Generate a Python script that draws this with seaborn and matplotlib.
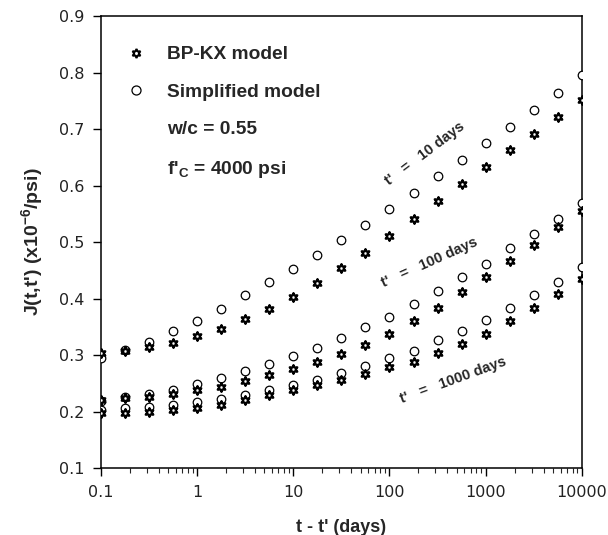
import numpy as np
import matplotlib
matplotlib.use("Agg")
import matplotlib.pyplot as plt
import matplotlib.ticker as ticker
from matplotlib.lines import Line2D
import pandas as pd
import seaborn as sns

# time since loading t - t' (days), quarter-decade steps
t_days = [0.1, 0.178, 0.316, 0.562, 1, 1.78, 3.16, 5.62, 10, 17.8, 31.6,
          56.2, 100, 178, 316, 562, 1000, 1778, 3162, 5623, 10000]

# compliance J(t,t') in 1e-6/psi
bp_10 = [0.303, 0.308, 0.314, 0.322, 0.334, 0.346, 0.364, 0.381, 0.403, 0.427, 0.454,
         0.481, 0.511, 0.540, 0.573, 0.603, 0.633, 0.663, 0.692, 0.722, 0.751]
simp_10 = [0.295, 0.309, 0.324, 0.342, 0.361, 0.381, 0.406, 0.429, 0.452, 0.477, 0.504,
           0.530, 0.558, 0.586, 0.617, 0.645, 0.675, 0.704, 0.734, 0.764, 0.796]
bp_100 = [0.221, 0.224, 0.226, 0.231, 0.238, 0.244, 0.255, 0.264, 0.275, 0.288, 0.302,
          0.318, 0.337, 0.360, 0.384, 0.412, 0.439, 0.467, 0.495, 0.526, 0.555]
simp_100 = [0.218, 0.225, 0.232, 0.239, 0.248, 0.259, 0.272, 0.285, 0.298, 0.313, 0.331,
            0.349, 0.368, 0.390, 0.414, 0.438, 0.462, 0.489, 0.514, 0.540, 0.570]
bp_1000 = [0.198, 0.197, 0.199, 0.202, 0.207, 0.211, 0.220, 0.229, 0.239, 0.247, 0.256,
           0.266, 0.279, 0.288, 0.304, 0.319, 0.338, 0.360, 0.383, 0.408, 0.435]
simp_1000 = [0.203, 0.206, 0.209, 0.212, 0.217, 0.222, 0.230, 0.238, 0.247, 0.256, 0.269,
             0.281, 0.294, 0.308, 0.327, 0.343, 0.363, 0.384, 0.406, 0.430, 0.456]

curve_labels = ["t'   =   10 days", "t'   =   100 days", "t'   =   1000 days"]
xtick_vals = [0.1, 1, 10, 100, 1000, 10000]
xtick_labels = ["0.1", "1", "10", "100", "1000", "10000"]
ytick_vals = [0.1, 0.2, 0.3, 0.4, 0.5, 0.6, 0.7, 0.8, 0.9]

sns.set_style("ticks")
plt.rcParams["font.family"] = ["Liberation Sans", "DejaVu Sans"]
plt.rcParams["mathtext.fontset"] = "custom"
plt.rcParams["mathtext.rm"] = "Liberation Sans:bold"
plt.rcParams["mathtext.it"] = "Liberation Sans:bold"
plt.rcParams["mathtext.default"] = "rm"

bp = pd.DataFrame({"t": t_days * 3, "J": bp_10 + bp_100 + bp_1000})
simp = pd.DataFrame({"t": t_days * 3, "J": simp_10 + simp_100 + simp_1000})

fig = plt.figure(figsize=(6.08, 5.35), dpi=100)
ax = fig.add_axes([0.166, 0.125, 0.791, 0.845])

star = (6, 1, 0)
sns.scatterplot(data=simp, x="t", y="J", ax=ax, marker="o", s=38,
                color="white", edgecolor="black", linewidth=0.9, zorder=3)
sns.scatterplot(data=bp, x="t", y="J", ax=ax, marker=star, s=40,
                color="white", edgecolor="black", linewidth=1.6, zorder=4)

ax.set_xscale("log")
ax.set_xlim(0.1, 10000)
ax.set_ylim(0.1, 0.9)
ax.set_xticks(xtick_vals)
ax.set_xticklabels(xtick_labels)
ax.xaxis.set_minor_locator(ticker.LogLocator(base=10, subs=np.arange(2, 10)))
ax.xaxis.set_minor_formatter(ticker.NullFormatter())
ax.set_yticks(ytick_vals)
ax.set_yticklabels([f"{v:.1f}" for v in ytick_vals])

for sp in ax.spines.values():
    sp.set_linewidth(1.1)
    sp.set_color("black")
ax.tick_params(axis="both", which="major", direction="out", length=6, width=1,
               labelsize=11.5, colors="black", pad=6)
ax.tick_params(axis="x", which="minor", direction="out", length=3.5, width=0.8)
for lab in ax.get_xticklabels() + ax.get_yticklabels():
    lab.set_fontfamily("DejaVu Sans")
    lab.set_color("#222222")

ax.set_xlabel("t - t' (days)", fontsize=13, fontweight="bold", labelpad=14)
ax.set_ylabel("J(t,t') (x10$^{-6}$/psi)", fontsize=14, fontweight="bold", labelpad=10)

# curve labels
text_pos = [(233, 0.657, 37), (263, 0.463, 24), (457, 0.256, 20)]
for lbl, (tx, ty, rot) in zip(curve_labels, text_pos):
    ax.text(tx, ty, lbl, rotation=rot, rotation_mode="anchor", ha="center", va="center",
            fontsize=10.5, fontweight="bold")

handles = [
    Line2D([], [], linestyle="", marker=star, markersize=6.5, markerfacecolor="white",
           markeredgecolor="black", markeredgewidth=1.5),
    Line2D([], [], linestyle="", marker="o", markersize=6.5, markerfacecolor="white",
           markeredgecolor="black", markeredgewidth=0.9),
    Line2D([], [], linestyle="", marker=""),
    Line2D([], [], linestyle="", marker=""),
]
labels = ["BP-KX model", "Simplified model", "w/c = 0.55", "f$'_{\\mathrm{C}}$ = 4000 psi"]
leg = ax.legend(handles, labels, loc="upper left", bbox_to_anchor=(0.017, 0.972),
                frameon=False, handlelength=1.0, handletextpad=1.1, labelspacing=1.05,
                prop={"size": 13.8, "weight": "bold"})

fig.savefig("out.png", dpi=100)
